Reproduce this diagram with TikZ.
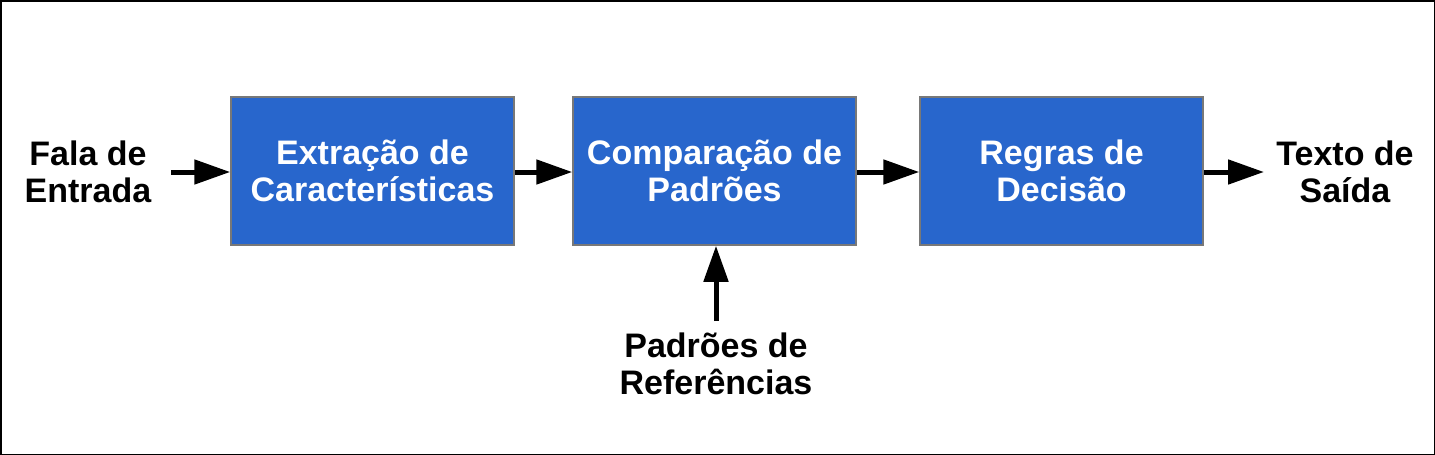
\documentclass[tikz,border=0pt]{standalone}
\usepackage{fontspec}
\setmainfont{Liberation Sans}
\usetikzlibrary{arrows.meta}
\definecolor{boxblue}{RGB}{40,102,204}
\definecolor{boxedge}{RGB}{120,120,120}
\begin{document}
\begin{tikzpicture}[x=1pt,y=-1pt,
  blockbox/.style={draw=boxedge,line width=1.5pt,fill=boxblue,minimum width=283pt,minimum height=148pt,inner sep=0pt,
    text=white,font=\fontsize{34}{37}\selectfont\bfseries,align=center},
  lbl/.style={font=\fontsize{34}{37}\selectfont\bfseries,align=center,inner sep=0pt},
  conn/.style={line width=5pt,-{Triangle[length=36pt,width=24pt]}}]
\draw[line width=1.5pt] (0.75,0.75) rectangle (1434.25,454.25);
\useasboundingbox (0,0) rectangle (1435,455);
\node[blockbox] (b1) at (372.5,171) {Extração de\\Características};
\node[blockbox] (b2) at (714.5,171) {Comparação de\\Padrões};
\node[blockbox] (b3) at (1061.5,171) {Regras de\\Decisão};
\node[lbl] (in) at (88,172) {Fala de\\Entrada};
\node[lbl] (out) at (1345,172) {Texto de\\Saída};
\node[lbl] (ref) at (716,364) {Padrões de\\Referências};
\coordinate (inA) at (171,172);
\coordinate (outA) at (1264,172);
\coordinate (refA) at (716,321);
\draw[conn] (inA) -- (b1.west |- inA);
\draw[conn] (b1.east |- inA) -- (b2.west |- inA);
\draw[conn] (b2.east |- inA) -- (b3.west |- inA);
\draw[conn] (b3.east |- inA) -- (outA);
\draw[conn] (refA) -- (refA |- b2.south);
\end{tikzpicture}
\end{document}
